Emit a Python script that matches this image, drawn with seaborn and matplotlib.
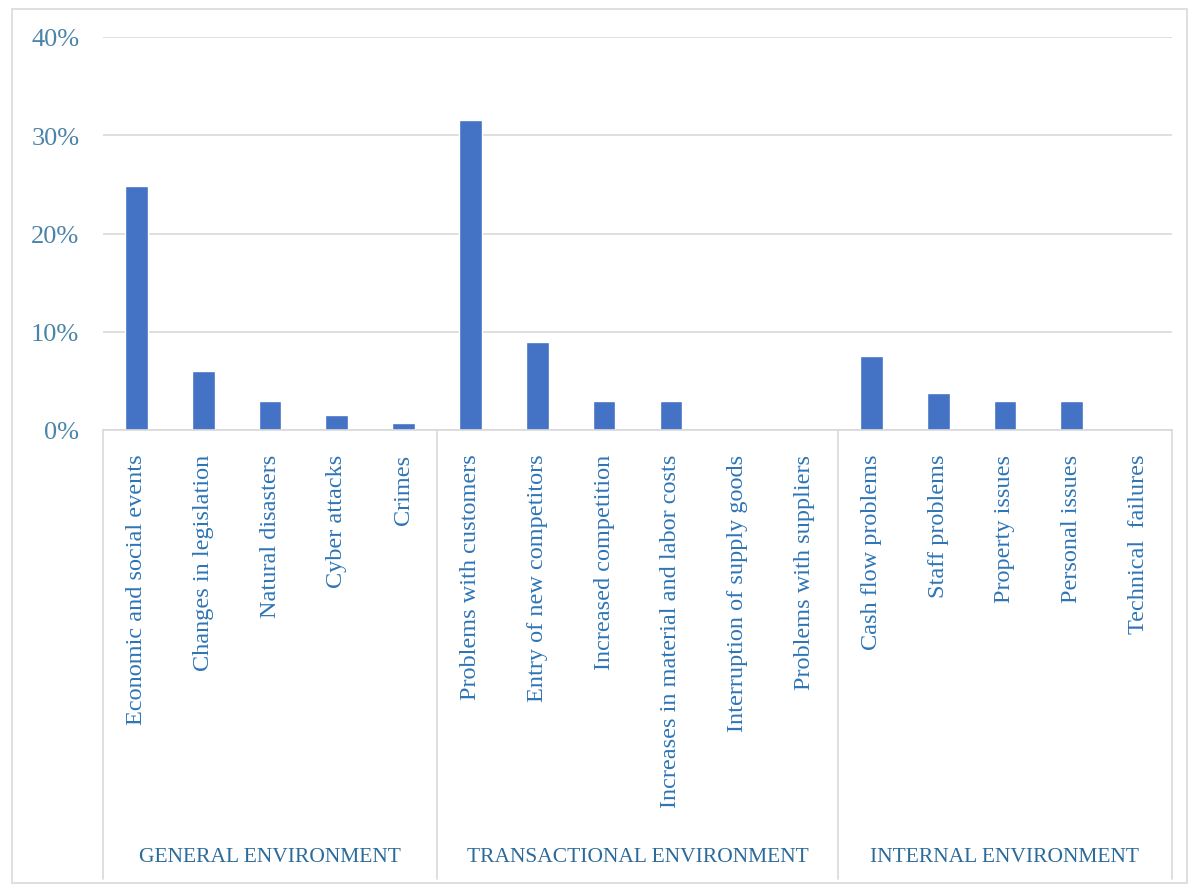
import matplotlib
matplotlib.use("Agg")
import matplotlib.pyplot as plt
import seaborn as sns
import pandas as pd
from matplotlib.patches import Rectangle
from matplotlib.ticker import FuncFormatter

categories = [
    "Economic and social events", "Changes in legislation", "Natural disasters",
    "Cyber attacks", "Crimes",
    "Problems with customers", "Entry of new competitors", "Increased competition",
    "Increases in material and labor costs", "Interruption of supply goods",
    "Problems with suppliers",
    "Cash flow problems", "Staff problems", "Property issues", "Personal issues",
    "Technical  failures",
]
values = [24.8, 6.0, 3.0, 1.5, 0.75,
          31.6, 9.0, 3.0, 3.0, 0.0, 0.0,
          7.5, 3.8, 3.0, 3.0, 0.0]
groups = ["GENERAL ENVIRONMENT", "TRANSACTIONAL ENVIRONMENT", "INTERNAL ENVIRONMENT"]
group_sizes = [5, 6, 5]
yticks = [0, 10, 20, 30, 40]

sns.set_theme(style="white")
plt.rcParams["font.family"] = ["Liberation Serif", "DejaVu Serif"]

W, H = 1200, 895
fig = plt.figure(figsize=(W / 100, H / 100), dpi=100)
ax = fig.add_axes([103 / W, (H - 431) / H, (1172 - 103) / W, (431 - 38) / H])

df = pd.DataFrame({"category": categories, "value": values})
sns.barplot(data=df, x="category", y="value", color="#4472C4", width=0.34,
            saturation=1, ax=ax, order=categories)

ax.set_xlim(-0.5, len(categories) - 0.5)
ax.set_ylim(0, 40)
ax.set_yticks(yticks)
ax.yaxis.set_major_formatter(FuncFormatter(lambda v, p: f"{v:.0f}%"))
ax.set_xlabel("")
ax.set_ylabel("")
ax.grid(axis="y", color="#D9D9D9", linewidth=1.2)
ax.set_axisbelow(True)
for s in ["top", "right", "left"]:
    ax.spines[s].set_visible(False)
ax.spines["bottom"].set_color("#D9D9D9")
ax.spines["bottom"].set_linewidth(1.2)

tick_color = "#2E75B6"
ax.tick_params(axis="x", length=0, pad=17, labelsize=17.5, labelcolor=tick_color)
ax.tick_params(axis="y", length=0, pad=17, labelsize=19, labelcolor="#4A84A8")
for lbl in ax.get_xticklabels():
    lbl.set_rotation(90)
    lbl.set_ha("center")
    lbl.set_va("top")

# group separators below axis
axes_h = 431 - 38
bottom_frac = -(880 - 431) / axes_h
bounds = [-0.5]
acc = -0.5
for n in group_sizes:
    acc += n
    bounds.append(acc)
for b in bounds:
    ax.plot([b, b], [0, bottom_frac], transform=ax.get_xaxis_transform(),
            color="#D9D9D9", linewidth=1.2, clip_on=False)

# group labels
for i, g in enumerate(groups):
    xc = (bounds[i] + bounds[i + 1]) / 2
    ax.text(xc, -(858 - 431) / axes_h, g, transform=ax.get_xaxis_transform(),
            ha="center", va="center", fontsize=15.5, color="#2B6A99")

# outer border
fig.patches.append(Rectangle((12 / W, (H - 884) / H), (1187 - 12) / W, (884 - 10) / H,
                             transform=fig.transFigure, fill=False,
                             edgecolor="#D9D9D9", linewidth=1.2))

fig.savefig("out.png", dpi=100)
